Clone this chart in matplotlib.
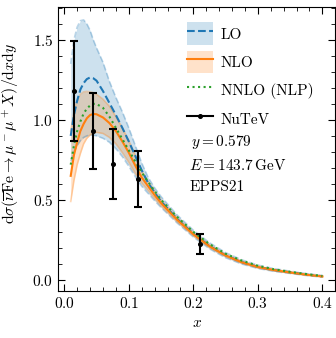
import matplotlib
matplotlib.use("Agg")
import matplotlib.pyplot as plt
from matplotlib.patches import Patch
from matplotlib.lines import Line2D
from matplotlib.ticker import MultipleLocator

plt.rcParams.update({
    "font.family": "serif",
    "font.serif": ["cmr10", "DejaVu Serif"],
    "mathtext.fontset": "cm",
    "axes.unicode_minus": False,
    "axes.formatter.use_mathtext": True,
    "font.size": 11,
})

x = [0.01, 0.015, 0.02, 0.025, 0.03, 0.035, 0.04, 0.045, 0.05, 0.06, 0.07, 0.08,
     0.09, 0.10, 0.11, 0.12, 0.13, 0.14, 0.15, 0.175, 0.2, 0.225, 0.25, 0.275,
     0.3, 0.325, 0.35, 0.375, 0.4]

nlo = [0.65, 0.78, 0.86, 0.93, 0.975, 1.01, 1.03, 1.037, 1.035, 1.015, 0.98, 0.93,
       0.865, 0.795, 0.715, 0.64, 0.585, 0.53, 0.48, 0.375, 0.285, 0.21, 0.152, 0.11,
       0.08, 0.061, 0.046, 0.032, 0.021]
nlo_hi = [0.93, 1.05, 1.12, 1.16, 1.175, 1.178, 1.175, 1.17, 1.16, 1.13, 1.085, 1.02,
          0.95, 0.87, 0.78, 0.68, 0.615, 0.555, 0.5, 0.39, 0.296, 0.22, 0.159, 0.116,
          0.085, 0.065, 0.05, 0.035, 0.024]
nlo_lo = [0.49, 0.62, 0.72, 0.79, 0.85, 0.885, 0.905, 0.918, 0.922, 0.915, 0.89, 0.85,
          0.795, 0.735, 0.665, 0.605, 0.558, 0.508, 0.462, 0.362, 0.275, 0.201, 0.145, 0.104,
          0.075, 0.056, 0.042, 0.029, 0.018]

lo = [0.90, 1.03, 1.12, 1.19, 1.23, 1.255, 1.265, 1.26, 1.245, 1.18, 1.105, 1.03,
      0.95, 0.865, 0.775, 0.685, 0.605, 0.545, 0.49, 0.38, 0.288, 0.212, 0.153, 0.111,
      0.081, 0.061, 0.047, 0.033, 0.022]
lo_hi = [1.35, 1.5, 1.58, 1.62, 1.625, 1.6, 1.56, 1.5, 1.45, 1.36, 1.24, 1.14,
         1.05, 0.95, 0.84, 0.73, 0.64, 0.575, 0.52, 0.405, 0.31, 0.232, 0.17, 0.125,
         0.092, 0.07, 0.054, 0.039, 0.027]
lo_lo = [0.74, 0.8, 0.84, 0.87, 0.89, 0.9, 0.905, 0.905, 0.9, 0.885, 0.86, 0.82,
         0.77, 0.71, 0.645, 0.585, 0.54, 0.495, 0.452, 0.355, 0.268, 0.194, 0.138, 0.099,
         0.071, 0.053, 0.04, 0.027, 0.017]

nnlo = [0.72, 0.84, 0.93, 0.99, 1.04, 1.07, 1.09, 1.1, 1.1, 1.075, 1.02, 0.95,
        0.88, 0.81, 0.74, 0.672, 0.612, 0.555, 0.5, 0.393, 0.3, 0.224, 0.163, 0.12,
        0.088, 0.066, 0.05, 0.036, 0.024]

nutev_x = [0.015, 0.045, 0.075, 0.115, 0.21]
nutev_y = [1.181, 0.93, 0.725, 0.63, 0.225]
nutev_err = [0.313, 0.235, 0.218, 0.177, 0.061]

blue = "#1f77b4"
orange = "#ff7f0e"
green = "#2ca02c"

fig = plt.figure(figsize=(3.36, 3.38), dpi=100)
ax = fig.add_axes([0.173, 0.139, 0.824, 0.840])

ax.fill_between(x, lo_lo, lo_hi, color=blue, alpha=0.22, lw=0)
ax.plot(x, lo_hi, color=blue, alpha=0.3, ls="--", lw=1.2)
ax.plot(x, lo_lo, color=blue, alpha=0.3, ls="--", lw=1.2)
ax.fill_between(x, nlo_lo, nlo_hi, color=orange, alpha=0.22, lw=0)
ax.plot(x, nlo_hi, color=orange, alpha=0.3, lw=1.2)
ax.plot(x, nlo_lo, color=orange, alpha=0.3, lw=1.2)
ax.plot(x, lo, color=blue, ls="--", lw=1.5)
ax.plot(x, nlo, color=orange, lw=1.5)
ax.plot(x, nnlo, color=green, ls=":", lw=1.5)
ax.errorbar(nutev_x, nutev_y, yerr=nutev_err, fmt="o", ms=2.6, color="black",
            capsize=3, elinewidth=1.5, capthick=1.5)

ax.set_xlim(-0.0095, 0.4195)
ax.set_ylim(-0.07, 1.705)
ax.xaxis.set_major_locator(MultipleLocator(0.1))
ax.xaxis.set_minor_locator(MultipleLocator(0.02))
ax.yaxis.set_major_locator(MultipleLocator(0.5))
ax.yaxis.set_minor_locator(MultipleLocator(0.1))
ax.tick_params(which="both", direction="in", top=True, right=True)
ax.tick_params(which="major", length=5)
ax.tick_params(which="minor", length=3)

ax.set_xlabel(r"$x$")
ax.set_ylabel(r"$\mathrm{d}\sigma(\overline{\nu}\mathrm{Fe}\to\mu^-\mu^+X)/\mathrm{d}x\mathrm{d}y$",
              fontsize=11.3)
ax.yaxis.set_label_coords(-0.135, 0.555)

handles = [
    (Patch(facecolor=blue, alpha=0.22, lw=0), Line2D([], [], color=blue, ls="--", lw=1.5)),
    (Patch(facecolor=orange, alpha=0.22, lw=0), Line2D([], [], color=orange, lw=1.5)),
    Line2D([], [], color=green, ls=":", lw=1.5),
    Line2D([], [], color="black", marker="o", ms=2.6, lw=1.5),
]
labels = ["LO", "NLO", "NNLO (NLP)", "NuTeV"]
ax.legend(handles, labels, loc="upper left", bbox_to_anchor=(0.45, 0.962),
          frameon=False, handlelength=1.7, handleheight=1.9, labelspacing=0.38,
          handletextpad=0.5, borderaxespad=0.0, borderpad=0.3)

ax.text(0.48, 0.492, r"$y = 0.579$", transform=ax.transAxes, va="bottom", ha="left")
ax.text(0.473, 0.417, r"$E = 143.7\,\mathrm{GeV}$", transform=ax.transAxes, va="bottom", ha="left")
ax.text(0.473, 0.342, "EPPS21", transform=ax.transAxes, va="bottom", ha="left")

fig.savefig("out.png", dpi=100)
